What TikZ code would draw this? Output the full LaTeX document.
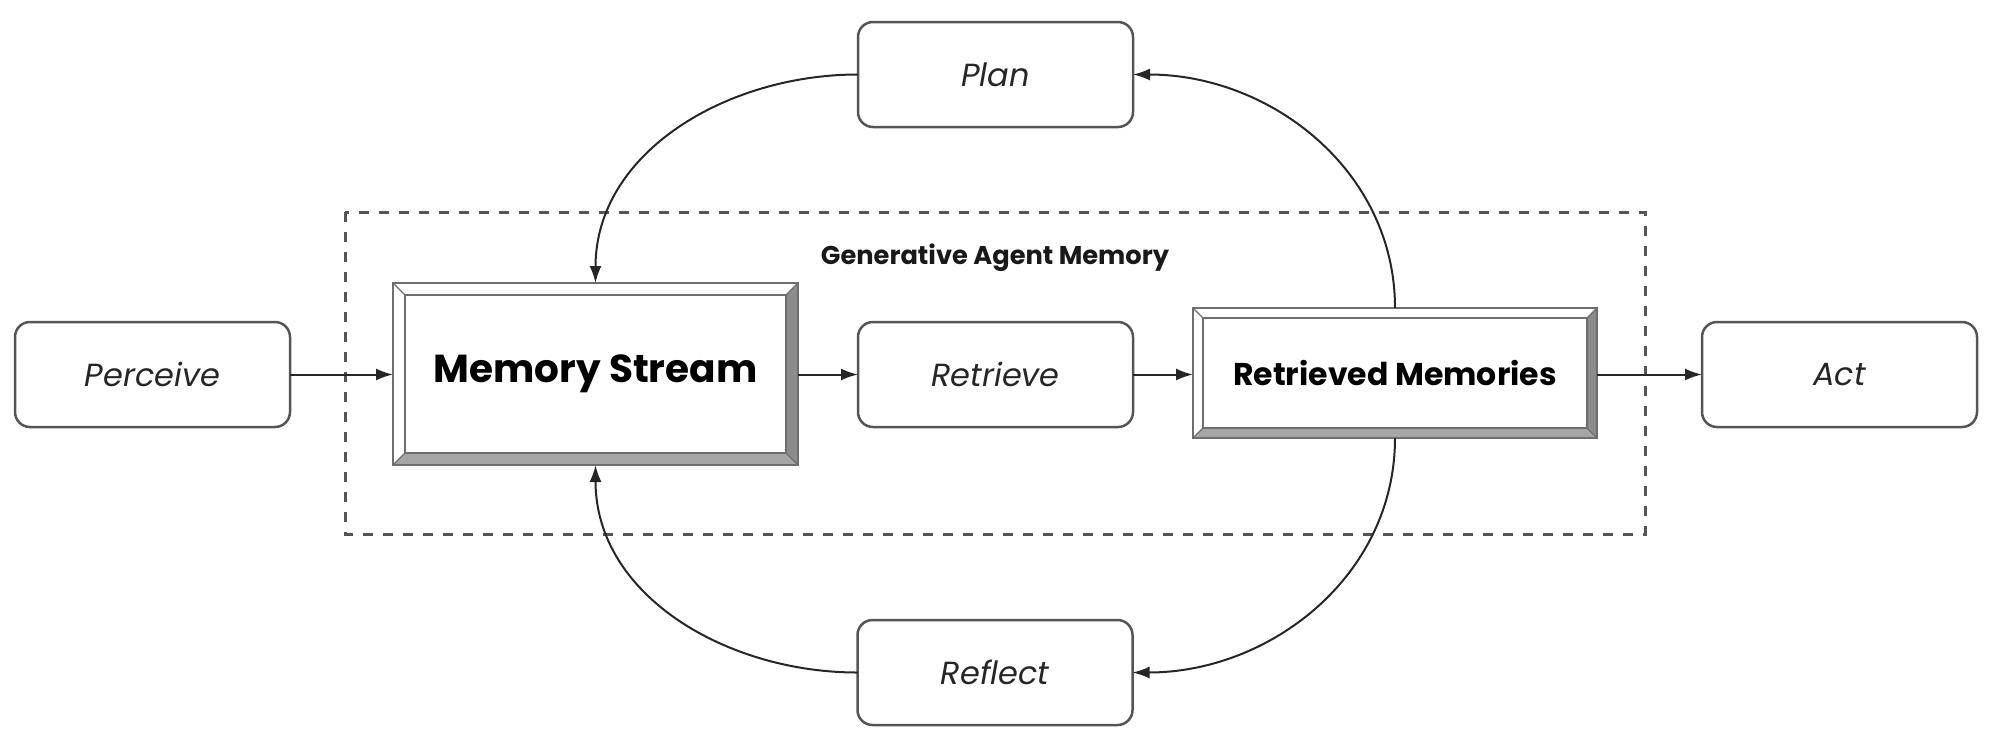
\documentclass[tikz,border=0pt]{standalone}
\usepackage{fontspec}
\setmainfont{Poppins}
\newfontfamily\labfont{Poppins}
\newfontfamily\headfont{Poppins}
\usetikzlibrary{arrows.meta,calc}
\definecolor{boxline}{HTML}{555555}
\definecolor{bevdark}{HTML}{8C8C8C}
\definecolor{bevmid}{HTML}{A6A6A6}
\definecolor{bevline}{HTML}{6E6E6E}
\definecolor{dashcol}{HTML}{555555}
\tikzset{
  x=1pt,y=1pt,
  roundbox/.style={draw=boxline,line width=2.5pt,rounded corners=15pt,minimum width=275pt,minimum height=105pt,inner sep=0pt,outer sep=0pt,font=\labfont\itshape\fontsize{32}{36}\selectfont,text=black!85},
  bevelnode/.style={draw=none,inner sep=0pt,outer sep=0pt,text=black},
  conn/.style={line width=2pt,draw=black!85,-{Latex[length=17pt,width=12pt]}},
  groupbox/.style={draw=dashcol,line width=3pt,dash pattern=on 10pt off 10pt},
}
\newcommand{\bevelframe}[2]{%
  \fill[bevdark] (#1.north east) -- (#1.south east) -- ($(#1.south east)+(-#2,#2)$) -- ($(#1.north east)+(-#2,-#2)$) -- cycle;
  \fill[bevmid] (#1.south west) -- (#1.south east) -- ($(#1.south east)+(-#2,#2)$) -- ($(#1.south west)+(#2,#2)$) -- cycle;
  \draw[bevline,line width=1.6pt] (#1.north west) rectangle (#1.south east);
  \draw[bevline,line width=1.6pt] ($(#1.north west)+(#2,-#2)$) rectangle ($(#1.south east)+(-#2,#2)$);
  \draw[bevline,line width=1.2pt] (#1.north west) -- ++(#2,-#2);
  \draw[bevline,line width=1.2pt] (#1.north east) -- ++(-#2,-#2);
  \draw[bevline,line width=1.2pt] (#1.south west) -- ++(#2,#2);
  \draw[bevline,line width=1.2pt] (#1.south east) -- ++(-#2,#2);
}
\begin{document}
\begin{tikzpicture}
\useasboundingbox (0,0) rectangle (1998,-732);
% group
\draw[groupbox] (345,-212) rectangle (1645,-534);
\node[font=\headfont\bfseries\fontsize{25.7}{30}\selectfont,text=black!90] (glabel) at (995,-258) {Generative Agent Memory};
% nodes
\node[roundbox] (perceive) at (152.5,-374.5) {Perceive};
\node[roundbox] (retrieve) at (995.5,-374.5) {Retrieve};
\node[roundbox] (act) at (1839.5,-374.5) {Act};
\node[roundbox] (plan) at (995.5,-74.5) {Plan};
\node[roundbox] (reflect) at (995,-672.5) {Reflect};
\node[bevelnode,minimum width=405pt,minimum height=182pt,font=\headfont\bfseries\fontsize{39}{44}\selectfont] (ms) at (595.5,-374) {Memory Stream};
\node[bevelnode,minimum width=404pt,minimum height=130pt,font=\headfont\bfseries\fontsize{31.5}{36}\selectfont] (rm) at (1395,-373) {Retrieved Memories};
\bevelframe{ms}{12}
\bevelframe{rm}{10}
% connectors
\draw[conn] (perceive.east) -- (ms.west |- perceive.east);
\draw[conn] (ms.east |- retrieve.west) -- (retrieve.west);
\draw[conn] (retrieve.east) -- (rm.west |- retrieve.east);
\draw[conn] (rm.east |- act.west) -- (act.west);
\draw[conn] (plan.west) to[out=180,in=90] (ms.north);
\draw[conn] (rm.north) to[out=90,in=0] (plan.east);
\draw[conn] (rm.south) to[out=-90,in=0] (reflect.east);
\draw[conn] (reflect.west) to[out=180,in=-90] (ms.south);
\end{tikzpicture}
\end{document}
